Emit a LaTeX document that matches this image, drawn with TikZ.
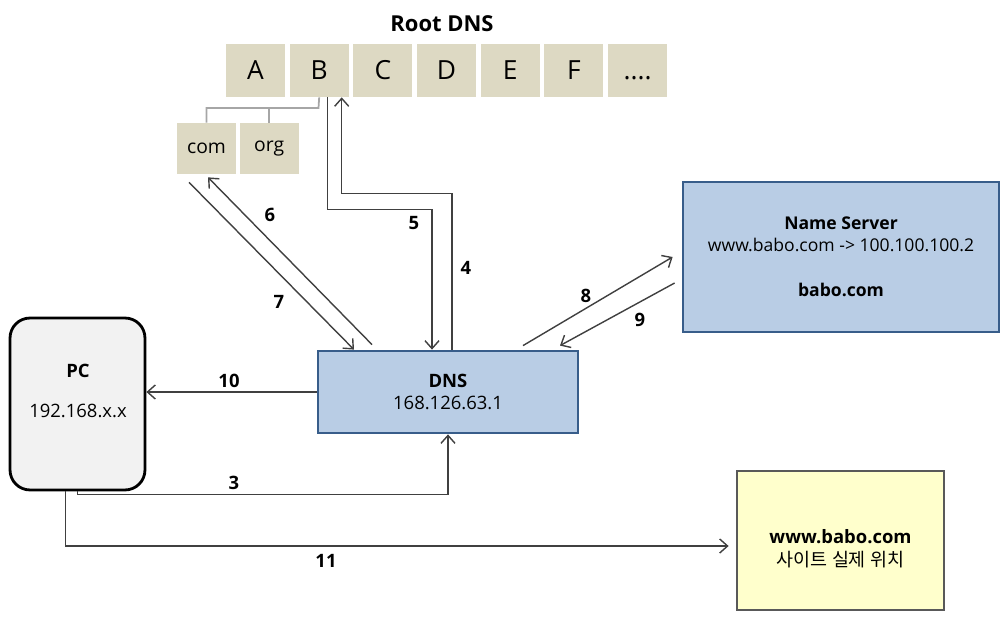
\documentclass[tikz,border=0pt]{standalone}
\usepackage{fontspec}
\setmainfont{Open Sans}
\newfontfamily\kr{Noto Sans CJK KR}
\usetikzlibrary{arrows.meta, positioning}

\definecolor{rootbeige}{HTML}{DDD9C3}
\definecolor{srvfill}{HTML}{B9CDE5}
\definecolor{srvline}{HTML}{385D8A}
\definecolor{sitefill}{HTML}{FFFFCC}
\definecolor{arrowgray}{HTML}{404040}
\definecolor{treegray}{HTML}{A6A6A6}

\begin{document}
\begin{tikzpicture} [
						x=0.02cm, y=-0.02cm,
						>={Straight Barb[length=4.5pt,width=8pt]},
						root/.style={fill=rootbeige, minimum width=1.18cm, minimum height=1.06cm, inner sep=0pt, font=\fontsize{15}{18}\selectfont},
						tld/.style={fill=rootbeige, minimum width=1.18cm, minimum height=1.02cm, inner sep=0pt, font=\fontsize{11}{13}\selectfont},
						server/.style={draw=srvline, line width=1.6pt, fill=srvfill, align=center, inner sep=0pt},
						msg/.style={->, draw=arrowgray, line width=0.8pt},
						tree/.style={draw=treegray, line width=1pt},
						num/.style={font=\fontsize{10.5}{12}\selectfont\bfseries}
					]

\useasboundingbox (0,0) rectangle (1007,631);

% root servers
\node (rootdns) at (442,24) [font=\fontsize{12.5}{15}\selectfont\bfseries] {Root DNS};
\node (A) at (255.5,70.5) [root] {A};
\node (B) [root, right=0.08cm of A] {B};
\node (C) [root, right=0.08cm of B] {C};
\node (D) [root, right=0.08cm of C] {D};
\node (E) [root, right=0.08cm of D] {E};
\node (F) [root, right=0.08cm of E] {F};
\node (more) [root, right=0.08cm of F] {\vphantom{A}....};

\node (com) at (206.5,148.5) [tld] {com};
\node (org) [tld, right=0.06cm of com] {org};

\coordinate (split) at (318.5,108);
\draw[tree] (B.south) -- (split) -| (com.north);
\draw[tree] (org.north) -- (org.north |- split);

% hosts
\node (pc) at (77.5,404) [draw=black, line width=1.6pt, fill=black!5, rounded corners=0.4cm,
	minimum width=2.7cm, minimum height=3.44cm] {};
\node (pctext) at (78,391) [align=center, font=\fontsize{10.5}{13}\selectfont] {\textbf{PC}\\[10pt]192.168.x.x};

\node (dns) at (448,392) [server, minimum width=5.2cm, minimum height=1.64cm,
	font=\fontsize{10.5}{13}\selectfont] {\textbf{DNS}\\168.126.63.1};

\node (ns) at (841,257) [server, minimum width=6.32cm, minimum height=3cm,
	font=\fontsize{10}{12.5}\selectfont] {\textbf{Name Server}\\www.babo.com -> 100.100.100.2\\[13pt]\textbf{babo.com}};

\node (site) at (840.5,540.5) [draw=black!65, line width=1.6pt, fill=sitefill,
	minimum width=4.14cm, minimum height=2.78cm, inner sep=0pt] {};
\node (sitetext) at (840.5,549) [align=center, font=\fontsize{10.5}{13}\selectfont] {\textbf{www.babo.com}\\{\kr 사이트 실제 위치}};

% queries
\draw[msg] (pc.south) -- ++(0,3) -| (dns.south);
\draw[msg] ([xshift=0.08cm]dns.north) |- ([shift={(22.5,96)}]B.south) -- ([shift={(22.5,0)}]B.south);
\draw[msg] ([shift={(8.5,0)}]B.south) -- ++(0,112) -| ([shift={(-16,0)}]dns.north);
\draw[msg] ([shift={(-76,-5)}]dns.north) -- ([shift={(1.5,3)}]com.south);
\draw[msg] ([shift={(-17.5,8)}]com.south) -- ([shift={(-94,0)}]dns.north);
\draw[msg] ([shift={(75,-4)}]dns.north) -- ([shift={(-9,0)}]ns.west);
\draw[msg] ([shift={(-7,26)}]ns.west) -- ([shift={(112,-4)}]dns.north);
\draw[msg] (dns.west) -- (dns.west -| pc.east);
\draw[msg] ([xshift=-0.24cm]pc.south) |- ([shift={(-7,5.5)}]site.west);

% step numbers
\node (n3) at (234,483) [num] {3};
\node (n4) at (466,268) [num] {4};
\node (n5) at (414,223) [num] {5};
\node (n6) at (270,215) [num] {6};
\node (n7) at (279,302) [num] {7};
\node (n8) at (586,296) [num] {8};
\node (n9) at (640,320) [num] {9};
\node (n10) at (229,381) [num] {10};
\node (n11) at (326,561) [num] {11};

\end{tikzpicture}
\end{document}
